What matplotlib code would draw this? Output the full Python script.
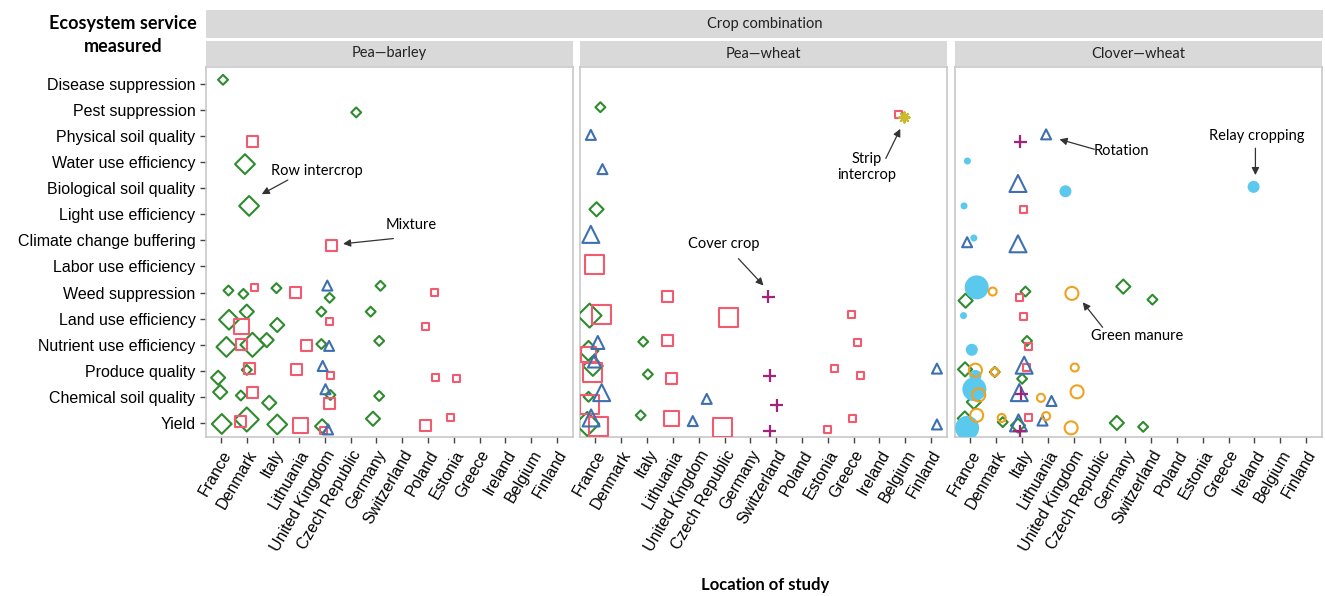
import numpy as np
import matplotlib.pyplot as plt

countries = ['France', 'Denmark', 'Italy', 'Lithuania', 'United Kingdom', 'Czech Republic',
             'Germany', 'Switzerland', 'Poland', 'Estonia', 'Greece', 'Ireland', 'Belgium', 'Finland']
services = ['Yield', 'Chemical soil quality', 'Produce quality', 'Nutrient use efficiency',
            'Land use efficiency', 'Weed suppression', 'Labor use efficiency',
            'Climate change buffering', 'Light use efficiency', 'Biological soil quality',
            'Water use efficiency', 'Physical soil quality', 'Pest suppression', 'Disease suppression']
panels = ['Pea\u2014barley', 'Pea\u2014wheat', 'Clover\u2014wheat']

# practice codes: R row intercrop, M mixture, T rotation, C cover crop,
# S strip intercrop, L relay cropping, G green manure
# x = country index (jittered), y = service index (jittered), n = size class

pb_x = [0.06, 5.22, 1.2, 0.91, 1.07, 4.26,
        0.27, 0.85, 1.29, 2.13, 2.87, 4.1, 4.19, 6.16, 8.25,
        0.29, 0.98, 0.78, 2.16, 3.87, 4.19, 5.78, 7.89,
        0.19, 0.77, 1.2, 1.75, 3.28, 3.87, 4.17, 6.11,
        -0.13, 0.98, 1.1, 2.9, 3.92, 4.23, 8.29, 9.11,
        -0.05, 0.75, 1.2, 1.85, 4.03, 4.22, 4.17, 6.11,
        0.01, 0.75, 0.98, 2.16, 3.06, 3.9, 3.96, 4.13, 5.87, 7.89, 8.88]
pb_y = [13.15, 11.9, 10.8, 9.92, 8.32, 6.8,
        5.08, 4.95, 5.2, 5.17, 5.01, 5.27, 4.8, 5.26, 5.01,
        3.96, 4.27, 3.7, 3.76, 4.27, 3.9, 4.27, 3.69,
        2.92, 3.03, 3.0, 3.18, 2.99, 3.03, 2.96, 3.15,
        1.74, 2.04, 2.1, 2.04, 2.19, 1.83, 1.73, 1.7,
        1.19, 1.06, 1.19, 0.78, 1.3, 1.08, 0.76, 1.04,
        -0.03, 0.05, 0.14, -0.05, -0.09, -0.12, -0.28, -0.24, 0.17, -0.08, 0.2]
pb_kind = list('RRMRRM'
               'RRMRMTRRM'
               'RRMRRMRM'
               'RMRRMRTR'
               'RRMMTMMM'
               'RRMRTRMR'
               'RMRRMRMTRMM')
pb_n = [1, 1, 2, 3, 3, 2,
        1, 1, 1, 1, 2, 1, 1, 1, 1,
        3, 2, 3, 2, 1, 1, 1, 1,
        3, 2, 4, 2, 2, 1, 1, 1,
        2, 1, 2, 2, 1, 1, 1, 1,
        2, 1, 2, 2, 1, 1, 2, 1,
        3, 2, 4, 3, 3, 2, 1, 1, 2, 2, 1]

pw_x = [0.19, -0.18, 0.27, 0.04, -0.18, 11.75, 11.94,
        -0.03,
        2.78, 6.7,
        0.22, -0.23, 5.15, 9.91,
        0.09, -0.29, -0.27, -0.04, -0.1, -0.1, 1.85, 2.8, 10.14,
        2.03, 2.96, 6.76, 9.28, 10.27, 13.23,
        -0.27, 0.24, -0.23, 4.31, 7.03,
        -0.32, -0.17, 0.12, 1.75, 2.94, 3.77, 4.93, 6.76, 9.0, 9.97, 13.23]
pw_y = [12.1, 11.04, 9.73, 8.19, 7.23, 11.83, 11.72,
        6.08,
        4.85, 4.85,
        4.18, 4.12, 4.03, 4.15,
        3.09, 2.64, 2.77, 2.38, 2.19, 1.93, 3.12, 3.15, 3.07,
        1.87, 1.7, 1.81, 2.1, 1.83, 2.09,
        1.01, 1.17, 0.72, 0.93, 0.68,
        -0.03, 0.2, -0.12, 0.3, 0.17, 0.08, -0.18, -0.31, -0.24, 0.17, -0.05]
pw_kind = list('RTTRTMS'
               'M'
               'MC'
               'MRMM'
               'TMRTRMRMM'
               'RMCMMT'
               'RTMTC'
               'RTMRMTMCMMT')
pw_n = [1, 1, 1, 2, 3, 1, 1,
        4,
        2, 2,
        4, 4, 4, 1,
        2, 3, 3, 2, 3, 4, 1, 2, 1,
        1, 2, 2, 1, 1, 1,
        1, 3, 4, 1, 2,
        4, 3, 4, 1, 3, 1, 4, 2, 1, 1, 1]

cw_x = [1.93, 2.93, -0.12, 1.84, 3.68, 10.97, -0.25, 2.07, -0.13, 0.13, 1.84,
        0.24, 0.86, -0.19, 2.13, 1.91, 3.93, 5.92, 7.05,
        -0.27, 2.04,
        0.05, 2.19, 2.26,
        -0.21, 0.19, 0.19, 0.94, 0.94, 2.08, 2.17, 2.0, 4.04,
        0.15, 0.32, 0.13, 1.89, 1.97, 2.73, 3.14, 4.13,
        -0.13, -0.22, 0.24, 1.21, 1.25, 1.86, 1.84, 1.9, 2.25, 2.93, 2.79, 3.9, 5.67, 6.69]
cw_y = [10.78, 11.06, 10.04, 9.18, 8.88, 9.05, 8.32, 8.19, 6.93, 7.09, 6.87,
        5.2, 5.04, 4.69, 5.04, 4.82, 4.97, 5.23, 4.73,
        4.12, 4.09,
        2.81, 3.15, 2.93,
        2.06, 2.03, 1.81, 1.96, 1.96, 2.22, 2.13, 1.7, 2.13,
        1.3, 1.08, 0.81, 1.17, 1.13, 0.97, 0.85, 1.2,
        -0.18, 0.18, 0.3, 0.2, 0.04, 0.01, -0.09, -0.31, 0.23, 0.27, 0.1, -0.18, 0.01, -0.14]
cw_kind = list('CTLTLLLMTLT'
               'LGRRMGRR'
               'LM'
               'LRM'
               'RGLRGTMRG'
               'LGRTCGTG'
               'LRGGRTRCMGTGRR')
cw_n = [2, 1, 1, 3, 2, 2, 1, 1, 1, 1, 3,
        4, 1, 2, 1, 1, 2, 2, 1,
        1, 1,
        2, 1, 1,
        2, 2, 2, 1, 1, 3, 1, 1, 1,
        4, 2, 2, 3, 2, 1, 1, 2,
        4, 2, 2, 1, 1, 3, 2, 2, 1, 1, 1, 2, 2, 1]

# marker, colour, filled, pixel size for classes 1..4
styles = {
    'R': ('D', '#2E8B2E', False, [7, 10, 14, 17]),
    'M': ('s', '#F25A70', False, [7, 11, 15, 19]),
    'T': ('^', '#3E70B0', False, [10, 13, 17, 20]),
    'C': ('+', '#A3237A', False, [11, 13, 15, 17]),
    'S': ((8, 2, 0), '#C9BA30', False, [10, 12, 14, 16]),
    'L': ('o', '#5BC8EE', True, [7, 12, 17, 24]),
    'G': ('o', '#F0A21E', False, [8, 13, 16, 20]),
}

W, H = 1325, 596
fig = plt.figure(figsize=(W / 100, H / 100), dpi=100)
body = ['Liberation Sans', 'DejaVu Sans']
strip_font = ['Lato', 'DejaVu Sans']

lefts = [206, 580, 955]
pw_px = 367
top, bottom = 67, 437
data = [(pb_x, pb_y, pb_kind, pb_n), (pw_x, pw_y, pw_kind, pw_n), (cw_x, cw_y, cw_kind, cw_n)]

axes = []
for i, (xs, ys, ks, ns) in enumerate(data):
    ax = fig.add_axes([lefts[i] / W, 1 - bottom / H, pw_px / W, (bottom - top) / H])
    axes.append(ax)
    for k in styles:
        idx = [j for j in range(len(ks)) if ks[j] == k]
        if not idx:
            continue
        mk, col, filled, px = styles[k]
        sz = [(px[ns[j] - 1] * 0.72) ** 2 for j in idx]
        xx = [xs[j] for j in idx]
        yy = [ys[j] for j in idx]
        if filled:
            ax.scatter(xx, yy, s=sz, marker=mk, color=col, linewidths=0, zorder=3)
        elif mk == '+' or k == 'S':
            ax.scatter(xx, yy, s=sz, marker=mk, color=col, linewidths=1.6, zorder=3)
        else:
            ax.scatter(xx, yy, s=sz, marker=mk, facecolors='none', edgecolors=col,
                       linewidths=1.5, zorder=3)
    ax.set_xlim(-0.6, 13.62)
    ax.set_ylim(-0.53, 13.64)
    ax.set_xticks(range(len(countries)))
    ax.set_xticklabels(countries, rotation=60, ha='right', rotation_mode='anchor',
                       fontsize=11.5, family=body)
    ax.set_yticks(range(len(services)))
    if i == 0:
        ax.set_yticklabels(services, fontsize=11.5, family=body)
    else:
        ax.tick_params(axis='y', left=False, labelleft=False)
    ax.tick_params(axis='both', length=4, color='#444444', width=1)
    for sp in ax.spines.values():
        sp.set_color('#C8C8C8')
        sp.set_linewidth(1.2)

    # panel strip
    st = fig.add_axes([lefts[i] / W, 1 - 66 / H, pw_px / W, 25 / H])
    st.set_facecolor('#D9D9D9')
    st.set_xticks([])
    st.set_yticks([])
    for sp in st.spines.values():
        sp.set_visible(False)
    st.text(0.5, 0.5, panels[i], ha='center', va='center', fontsize=10.5,
            family=strip_font, color='#222222', transform=st.transAxes)

top_strip = fig.add_axes([206 / W, 1 - 38 / H, (1323 - 206) / W, 28 / H])
top_strip.set_facecolor('#D9D9D9')
top_strip.set_xticks([])
top_strip.set_yticks([])
for sp in top_strip.spines.values():
    sp.set_visible(False)
top_strip.text(0.5, 0.5, 'Crop combination', ha='center', va='center', fontsize=10.5,
               family=strip_font, color='#222222', transform=top_strip.transAxes)

fig.text(123 / W, 1 - 35 / H, 'Ecosystem service\nmeasured', ha='center', va='center',
         fontsize=13, fontweight='bold', family=strip_font, linespacing=1.5)
fig.text(765 / W, 1 - 585 / H, 'Location of study', ha='center', va='center',
         fontsize=12, fontweight='bold', family=strip_font)

# annotations: (panel, label, text pos, arrow tail, arrow head)
notes = [
    (0, 'Row intercrop', (3.71, 9.67), (2.57, 9.31), (1.56, 8.77)),
    (0, 'Mixture', (7.35, 7.58), (6.66, 7.07), (4.71, 6.87)),
    (1, 'Strip\nintercrop', (10.49, 9.82), (11.25, 10.14), (11.81, 11.27)),
    (1, 'Cover crop', (4.97, 6.87), (5.54, 6.3), (6.51, 5.27)),
    (2, 'Rotation', (5.83, 10.43), (4.8, 10.49), (3.45, 10.87)),
    (2, 'Relay cropping', (11.08, 11.0), (11.04, 10.53), (11.04, 9.5)),
    (2, 'Green manure', (6.47, 3.32), (5.12, 3.67), (4.35, 4.63)),
]
for p, lab, tp, tail, head in notes:
    ax = axes[p]
    ax.text(tp[0], tp[1], lab, ha='center', va='center', fontsize=10.5,
            family=strip_font, linespacing=1.2, zorder=4)
    ax.annotate('', xy=head, xytext=tail,
                arrowprops=dict(arrowstyle='-|>', color='#333333', lw=0.9,
                                mutation_scale=11, shrinkA=0, shrinkB=0), zorder=4)

fig.savefig('out.png', dpi=100)
